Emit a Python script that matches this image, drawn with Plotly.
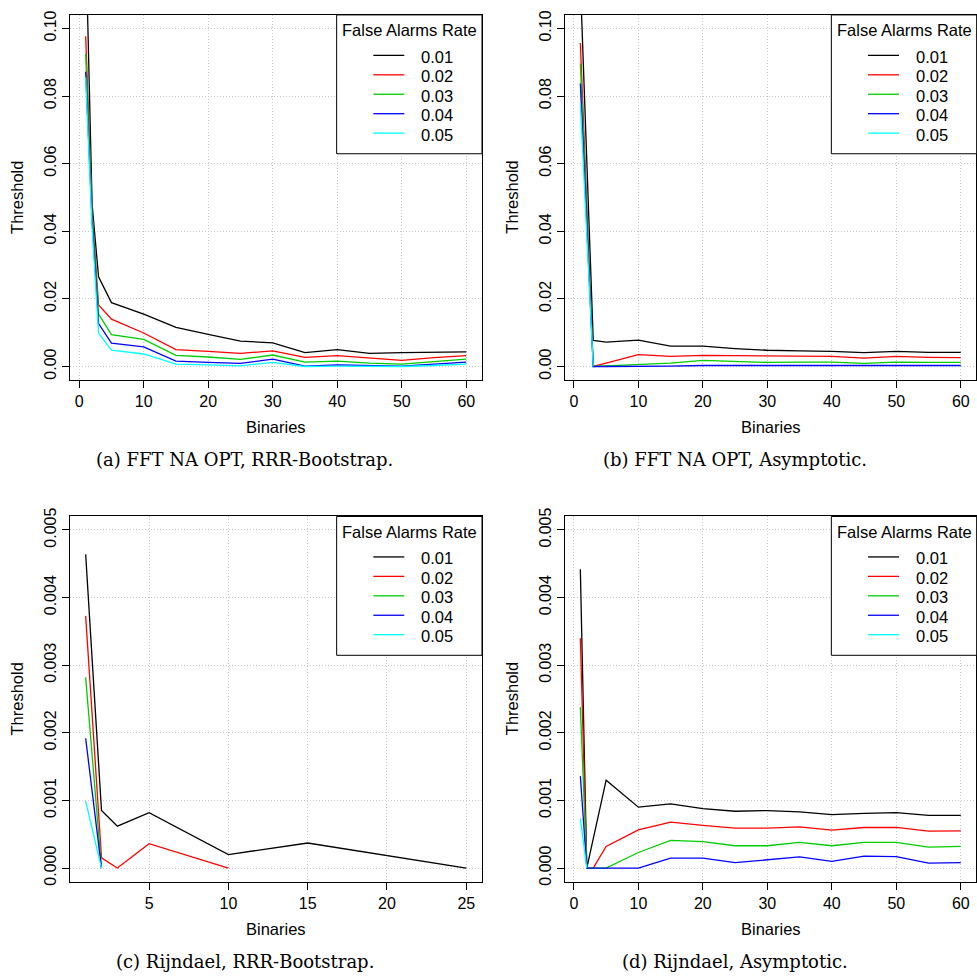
import plotly.graph_objects as go

W, H = 977, 980

# ---------------- data ----------------
rates = ["0.01", "0.02", "0.03", "0.04", "0.05"]
colors = ["#000000", "#FF0000", "#00CD00", "#0000FF", "#00FFFF"]

# (a) FFT NA OPT, RRR-Bootstrap
a_x = [1, 2, 3, 5, 10, 15, 20, 25, 30, 35, 40, 45, 50, 55, 60]
a_001 = [0.128, 0.048, 0.0265, 0.0189, 0.0155, 0.0116, 0.0095, 0.0075, 0.0070, 0.0041, 0.0050, 0.0039, 0.0041, 0.0043, 0.0043]
a_002 = [0.0977, 0.046, 0.0182, 0.0140, 0.0099, 0.0050, 0.0045, 0.0039, 0.0046, 0.0027, 0.0032, 0.0024, 0.0018, 0.0026, 0.0032]
a_003 = [0.0925, 0.045, 0.0155, 0.0094, 0.0080, 0.0033, 0.0028, 0.0021, 0.0034, 0.0013, 0.0016, 0.0010, 0.0007, 0.0015, 0.0022]
a_004 = [0.0872, 0.043, 0.0127, 0.0069, 0.0058, 0.0016, 0.0012, 0.0009, 0.0022, 0.0001, 0.0005, 0.0003, 0.0001, 0.0007, 0.0013]
a_005 = [0.0855, 0.041, 0.0099, 0.0048, 0.0037, 0.0007, 0.0005, 0.0002, 0.0012, 0.0000, 0.0001, 0.0000, 0.0000, 0.0003, 0.0007]

# (b) FFT NA OPT, Asymptotic
b_x = [1, 3, 5, 10, 15, 20, 25, 30, 35, 40, 45, 50, 55, 60]
b_001 = [0.1142, 0.0077, 0.0072, 0.0078, 0.0060, 0.0060, 0.0053, 0.0048, 0.0046, 0.0045, 0.0041, 0.0045, 0.0042, 0.0042]
b_002 = [0.0957, 0.0, 0.0010, 0.0035, 0.0030, 0.0033, 0.0032, 0.0031, 0.0030, 0.0030, 0.0025, 0.0030, 0.0027, 0.0026]
b_003 = [0.0896, 0.0, 0.0002, 0.0006, 0.0010, 0.0018, 0.0016, 0.0012, 0.0013, 0.0013, 0.0009, 0.0013, 0.0012, 0.0012]
b_004 = [0.0837, 0.0, 0.0, 0.0, 0.0001, 0.0003, 0.0003, 0.0003, 0.0003, 0.0003, 0.00015, 0.0003, 0.0003, 0.0003]
b_x_005 = [1, 3]
b_005 = [0.0779, 0.0]

# (c) Rijndael, RRR-Bootstrap
c_x_001 = [1, 2, 3, 5, 10, 15, 25]
c_001 = [0.00464, 0.00085, 0.00062, 0.00082, 0.00020, 0.00037, 0.0]
c_x_002 = [1, 2, 3, 5, 10]
c_002 = [0.00373, 0.00015, 0.0, 0.00036, 0.0]
c_x_rest = [1, 2]
c_003 = [0.00282, 0.0]
c_004 = [0.00192, 0.0]
c_005 = [0.00099, 0.0]

# (d) Rijndael, Asymptotic
d_x_001 = [1, 2, 5, 10, 15, 20, 25, 30, 35, 40, 45, 50, 55, 60]
d_001 = [0.00442, 0.0, 0.00130, 0.00090, 0.00095, 0.00088, 0.00084, 0.00085, 0.00083, 0.00079, 0.00081, 0.00082, 0.00078, 0.00078]
d_x = [1, 2, 3, 5, 10, 15, 20, 25, 30, 35, 40, 45, 50, 55, 60]
d_002 = [0.0034, 0.0, 0.0, 0.00032, 0.000565, 0.00068, 0.00063, 0.00059, 0.00059, 0.00061, 0.00056, 0.00060, 0.00060, 0.000545, 0.00055]
d_003 = [0.00238, 0.0, 0.0, 0.0, 0.00023, 0.00041, 0.00039, 0.00033, 0.00033, 0.00038, 0.00033, 0.00038, 0.00038, 0.00031, 0.00032]
d_004 = [0.00136, 0.0, 0.0, 0.0, 0.0, 0.000146, 0.000146, 0.00008, 0.000126, 0.000165, 0.00010, 0.000175, 0.00017, 0.000073, 0.00008]
d_x_005 = [1, 2]
d_005 = [0.000735, 0.0]

captions = ["(a) FFT NA OPT, RRR-Bootstrap.", "(b) FFT NA OPT, Asymptotic.",
            "(c) Rijndael, RRR-Bootstrap.", "(d) Rijndael, Asymptotic."]
legend_title = "False Alarms Rate"
x_title = "Binaries"
y_title = "Threshold"

panels = [
    dict(series=[(a_x, a_001), (a_x, a_002), (a_x, a_003), (a_x, a_004), (a_x, a_005)],
         xr=[-1.36, 62.36], yr=[-0.004, 0.104], xt=[0, 10, 20, 30, 40, 50, 60],
         yt=[0, 0.02, 0.04, 0.06, 0.08, 0.10], yfmt=".2f",
         box=(70.5, 482, 6, 376), cap_x=245),
    dict(series=[(b_x, b_001), (b_x, b_002), (b_x, b_003), (b_x, b_004), (b_x_005, b_005)],
         xr=[-1.36, 62.36], yr=[-0.004, 0.104], xt=[0, 10, 20, 30, 40, 50, 60],
         yt=[0, 0.02, 0.04, 0.06, 0.08, 0.10], yfmt=".2f",
         box=(565.7, 977.2, 6, 376), cap_x=736),
    dict(series=[(c_x_001, c_001), (c_x_002, c_002), (c_x_rest, c_003), (c_x_rest, c_004), (c_x_rest, c_005)],
         xr=[0.04, 25.96], yr=[-0.0002, 0.0052], xt=[5, 10, 15, 20, 25],
         yt=[0, 0.001, 0.002, 0.003, 0.004, 0.005], yfmt=".3f",
         box=(70.5, 482, 514.3, 884.3), cap_x=245),
    dict(series=[(d_x_001, d_001), (d_x, d_002), (d_x, d_003), (d_x, d_004), (d_x_005, d_005)],
         xr=[-1.36, 62.36], yr=[-0.0002, 0.0052], xt=[0, 10, 20, 30, 40, 50, 60],
         yt=[0, 0.001, 0.002, 0.003, 0.004, 0.005], yfmt=".3f",
         box=(565.7, 977.2, 514.3, 884.3), cap_x=736),
]

FONT = "Liberation Sans, Arial, Helvetica, sans-serif"
SERIF = "DejaVu Serif, serif"


def px(x):
    return x / W


def py(y):
    return 1 - y / H


fig = go.Figure()
shapes = []
annotations = []
layout_axes = {}

for i, p in enumerate(panels):
    n = i + 1
    xa = "x" if n == 1 else f"x{n}"
    ya = "y" if n == 1 else f"y{n}"
    x0, x1, y0, y1 = p["box"]
    for k, (xs, ys) in enumerate(p["series"]):
        fig.add_trace(go.Scatter(x=xs, y=ys, mode="lines", xaxis=xa, yaxis=ya,
                                 line=dict(color=colors[k], width=1.3),
                                 name=rates[k], showlegend=False))
    common = dict(showline=True, linecolor="#000000", linewidth=1.2, mirror=True,
                  ticks="outside", ticklen=7, tickwidth=1, tickcolor="#000000",
                  showgrid=True, gridcolor="#C8C8C8", griddash="1px,2px", gridwidth=1,
                  zeroline=False, tickfont=dict(family=FONT, size=16, color="#000000"))
    layout_axes["xaxis" if n == 1 else f"xaxis{n}"] = dict(
        common, domain=[px(x0), min(px(x1), 1.0)], range=p["xr"], tickvals=p["xt"],
        anchor=ya)
    layout_axes["yaxis" if n == 1 else f"yaxis{n}"] = dict(
        common, domain=[py(y1), py(y0)], range=p["yr"], tickvals=p["yt"],
        tickformat=p["yfmt"], tickangle=-90, anchor=xa)

    # axis titles
    annotations.append(dict(text=x_title, x=px((x0 + x1) / 2), y=py(y1 + 48),
                            xref="paper", yref="paper", showarrow=False,
                            xanchor="center", yanchor="middle",
                            font=dict(family=FONT, size=16.5, color="#000000")))
    annotations.append(dict(text=y_title, x=px(x0 - 53), y=py((y0 + y1) / 2), xref="paper", yref="paper",
                            showarrow=False, textangle=-90, xanchor="center", yanchor="middle",
                            font=dict(family=FONT, size=16.5, color="#000000")))
    # caption
    annotations.append(dict(text=captions[i], x=px(p["cap_x"]), y=py(y1 + 81), xref="paper", yref="paper",
                            showarrow=False, xanchor="center", yanchor="middle",
                            font=dict(family=SERIF, size=18, color="#000000")))

    # legend box (drawn like R's legend)
    lx0 = x1 - 145
    lx1 = lx0 + 145.5
    shapes.append(dict(type="rect", xref="paper", yref="paper", x0=px(lx0), x1=px(lx1),
                       y0=py(y0 + 140.7), y1=py(y0), line=dict(color="#000000", width=1),
                       fillcolor="#FFFFFF", layer="above"))
    annotations.append(dict(text=legend_title, x=px(lx0 + 73), y=py(y0 + 15.5), xref="paper", yref="paper",
                            showarrow=False, xanchor="center", yanchor="middle",
                            font=dict(family=FONT, size=16.5, color="#000000")))
    for k, r in enumerate(rates):
        ly = y0 + 41 + 19.7 * k
        shapes.append(dict(type="line", xref="paper", yref="paper", x0=px(lx0 + 36.7), x1=px(lx0 + 67.7),
                           y0=py(ly), y1=py(ly), line=dict(color=colors[k], width=1.3), layer="above"))
        annotations.append(dict(text=r, x=px(lx0 + 82.7), y=py(ly + 1.5), xref="paper", yref="paper",
                                showarrow=False, xanchor="left", yanchor="middle",
                                font=dict(family=FONT, size=16.5, color="#000000")))

fig.update_layout(width=W, height=H, margin=dict(l=0, r=0, t=0, b=0),
                  paper_bgcolor="#FFFFFF", plot_bgcolor="#FFFFFF",
                  shapes=shapes, annotations=annotations, **layout_axes)

fig.write_html("out.html", config={"displayModeBar": False},
               post_script="document.body.style.margin='0';document.body.style.padding='0';"
                           "document.body.style.overflow='hidden';")
